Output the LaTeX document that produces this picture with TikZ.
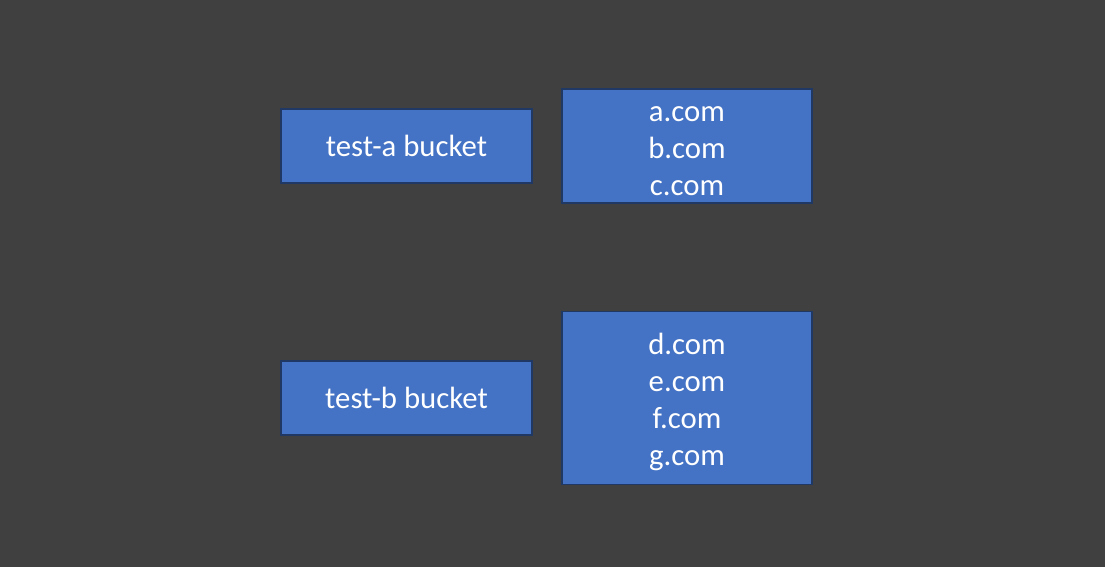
\documentclass[tikz,border=0pt]{standalone}
\usepackage{fontspec}
\setmainfont{Carlito}
\usepackage{xcolor}
\usetikzlibrary{positioning}
\definecolor{bgdark}{RGB}{64, 64, 64}
\definecolor{boxblue}{RGB}{68, 114, 196}
\definecolor{boxedge}{RGB}{32, 56, 100}

\begin{document}
\begin{tikzpicture}[
   bucket/.style={draw=boxedge, line width=1pt, fill=boxblue, text=white, inner sep=0pt,
               outer sep=0pt, minimum width=5.02cm, minimum height=1.48cm, align=center,
               font=\fontsize{17.5}{21.1}\selectfont},
   domains/.style={bucket, minimum width=5cm}]
  \fill[bgdark] (0,0) rectangle (22.1,-11.34);
  \useasboundingbox (0,0) rectangle (22.1,-11.34);
  \node[bucket] (testa) at (8.13,-2.92) {test-a bucket};
  \node[domains, minimum height=2.28cm, right=0.6cm of testa] (doma) {\rule{0pt}{14pt}a.com\\b.com\\c.com};
  \node[bucket, below=3.56cm of testa] (testb) {test-b bucket};
  \node[domains, minimum height=3.46cm, right=0.6cm of testb] (domb) {\rule{0pt}{17pt}d.com\\e.com\\f.com\\g.com};
\end{tikzpicture}
\end{document}
